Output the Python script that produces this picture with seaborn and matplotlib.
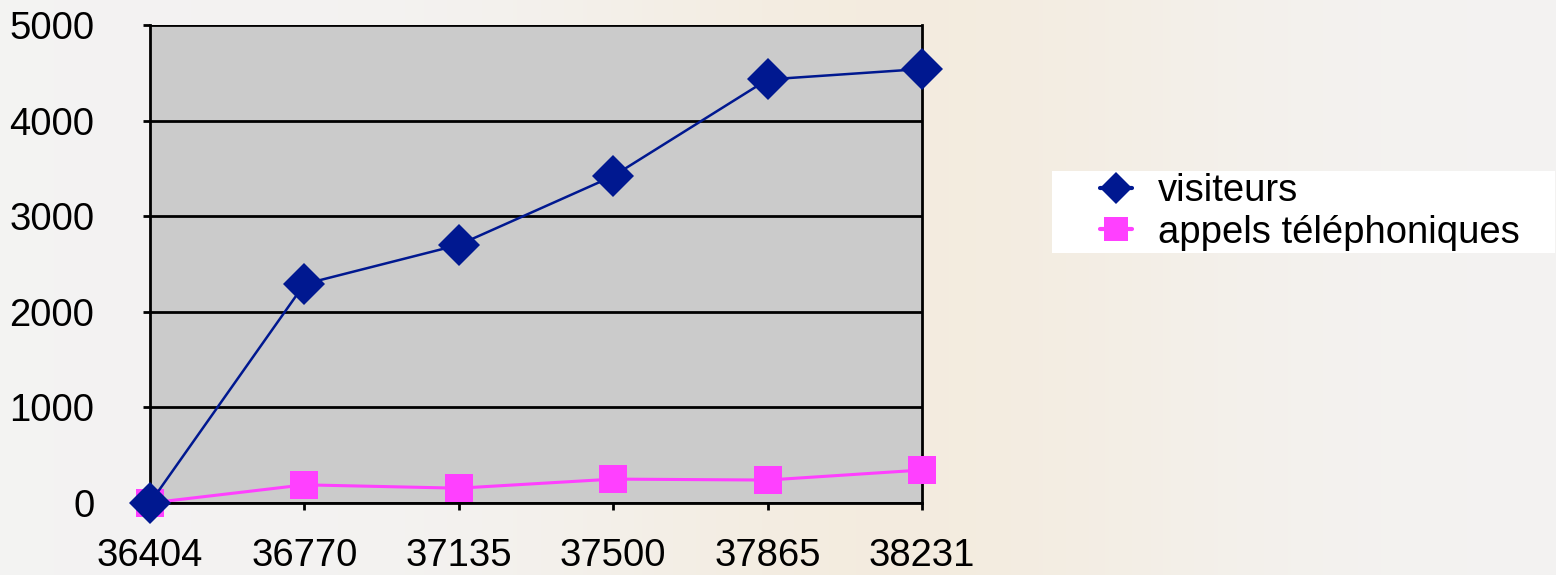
import numpy as np
import pandas as pd
import matplotlib.pyplot as plt
import seaborn as sns
from matplotlib.lines import Line2D
from matplotlib.patches import Rectangle

# data
dates = ["36404", "36770", "37135", "37500", "37865", "38231"]
visiteurs = [0, 2290, 2700, 3420, 4430, 4540]
appels = [0, 190, 155, 250, 240, 345]

df = pd.DataFrame({
    "date": dates * 2,
    "valeur": visiteurs + appels,
    "serie": ["visiteurs"] * len(dates) + ["appels téléphoniques"] * len(dates),
})

sns.set_style("white")
plt.rcParams["font.family"] = ["Liberation Sans", "DejaVu Sans"]
plt.rcParams["text.color"] = "black"

fig = plt.figure(figsize=(15.56, 5.75), dpi=100, facecolor="#f3f3f2")

# soft background (faded picture behind the chart)
bg = fig.add_axes([0, 0, 1, 1], zorder=-10)
xx = np.linspace(0, 1, 400)
beige = np.exp(-((xx - 0.58) / 0.22) ** 2)
col_a = np.array([0.953, 0.953, 0.95])
col_b = np.array([0.953, 0.925, 0.875])
img = col_a[None, None, :] + (col_b - col_a)[None, None, :] * beige[None, :, None]
bg.imshow(np.repeat(img, 2, axis=0), aspect="auto", extent=[0, 1, 0, 1])
bg.axis("off")

ax = fig.add_axes([150 / 1556, 1 - 503 / 575, 772 / 1556, 478 / 575])
ax.set_facecolor("#cbcbcb")

palette = {"visiteurs": "#001890", "appels téléphoniques": "#ff40ff"}
markers = {"visiteurs": "D", "appels téléphoniques": "s"}
sns.lineplot(data=df, x="date", y="valeur", hue="serie", style="serie",
             palette=palette, markers=markers, dashes=False,
             hue_order=["appels téléphoniques", "visiteurs"],
             markersize=20, markeredgewidth=0, linewidth=2, ax=ax,
             legend=False, zorder=3)
for line in ax.lines:
    line.set_clip_on(False)
    if line.get_marker() == "D":
        line.set_markersize(21)
        line.set_linewidth(1.8)
    else:
        line.set_linewidth(2.2)

ax.set_xlim(0, len(dates) - 1)
ax.set_ylim(0, 5000)
ax.set_yticks([0, 1000, 2000, 3000, 4000, 5000])
ax.yaxis.grid(True, color="black", linewidth=2)
ax.set_axisbelow(True)
ax.set_xlabel("")
ax.set_ylabel("")
for side in ["left", "bottom", "right"]:
    ax.spines[side].set_color("black")
    ax.spines[side].set_linewidth(2)
ax.spines["top"].set_visible(False)
ax.tick_params(axis="both", direction="out", length=5, width=2, color="black",
               labelsize=27.5, labelcolor="black", left=True, bottom=True)
ax.tick_params(axis="y", pad=35)
ax.tick_params(axis="x", pad=20)

# legend box
fig.patches.append(Rectangle((1052 / 1556, 1 - 253 / 575), 503 / 1556, 82 / 575,
                             transform=fig.transFigure, facecolor="white",
                             edgecolor="none", zorder=1))
handles = [
    Line2D([], [], color="#001890", marker="D", markersize=16, linewidth=3,
           markeredgewidth=0),
    Line2D([], [], color="#ff40ff", marker="s", markersize=17, linewidth=3,
           markeredgewidth=0),
]
fig.legend(handles, ["visiteurs", "appels téléphoniques"],
           loc="center left", bbox_to_anchor=(1100 / 1556, 1 - 212 / 575),
           fontsize=27.5, frameon=False, handlelength=0.85,
           handletextpad=0.66, borderpad=0, labelspacing=0.15,
           borderaxespad=0, labelcolor="black")

fig.savefig("out.png", dpi=100, facecolor=fig.get_facecolor())
